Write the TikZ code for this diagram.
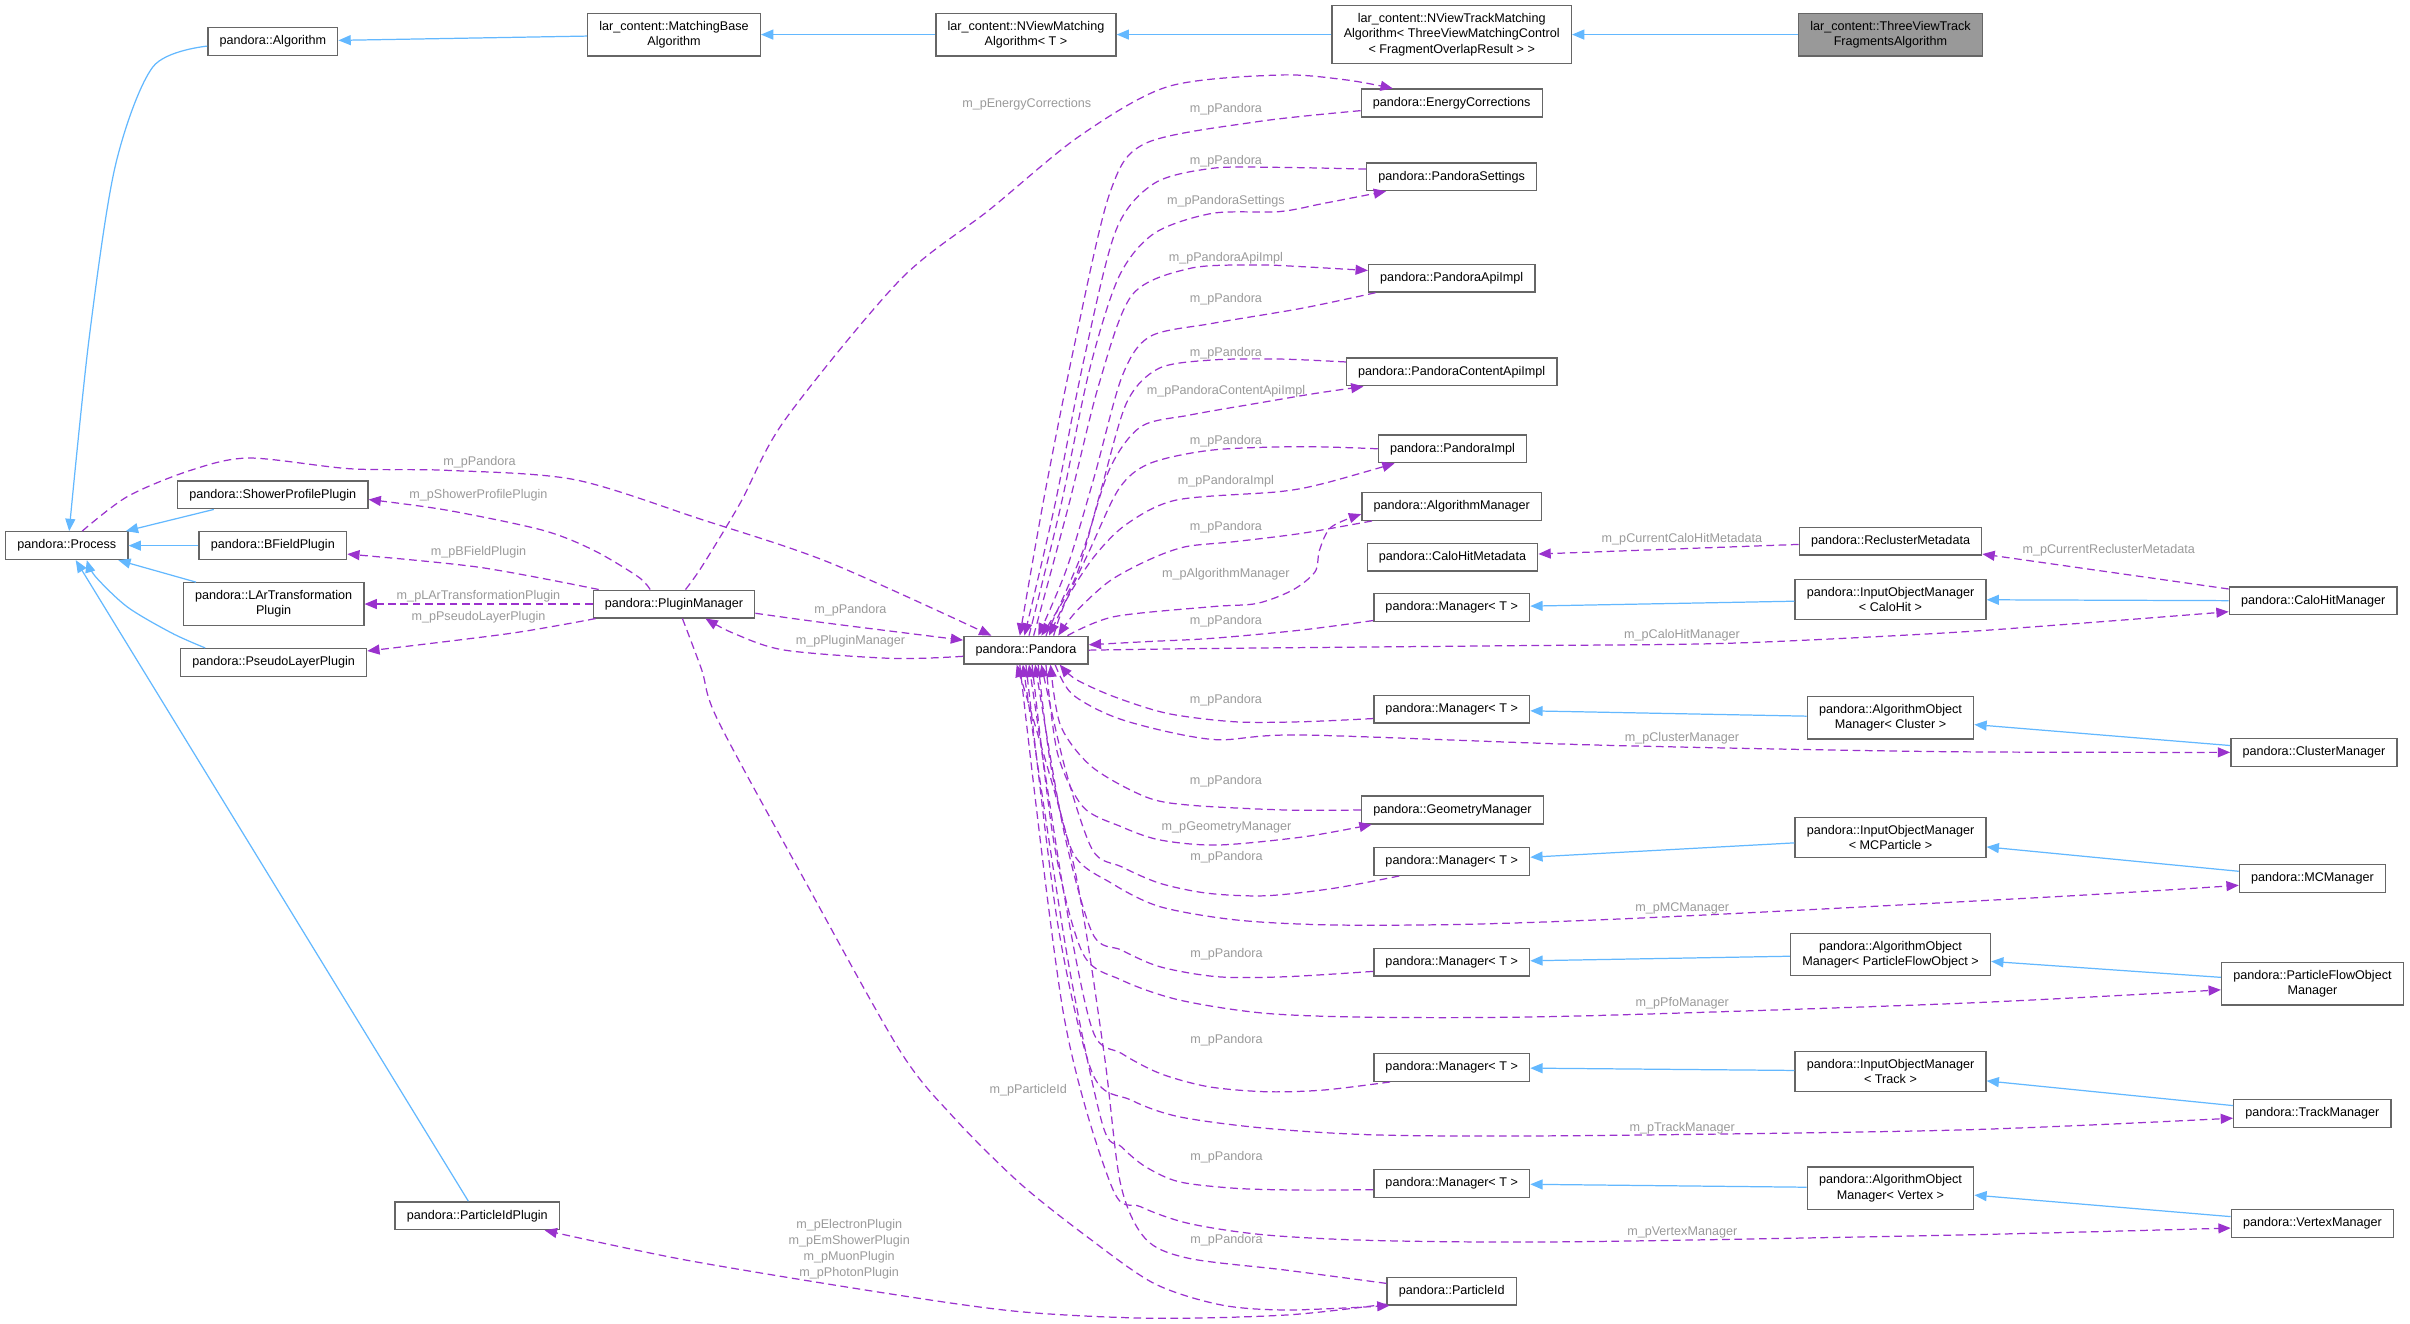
\documentclass[tikz,border=0pt]{standalone}
\usepackage{fontspec}
\setmainfont{Liberation Sans}
\usetikzlibrary{calc,arrows.meta}
\definecolor{inhblue}{HTML}{63B8FF}
\definecolor{usepurple}{HTML}{9A32CD}
\definecolor{lblgray}{HTML}{9A9A9A}
\definecolor{boxgray}{HTML}{666666}
\definecolor{mainfill}{HTML}{999999}
\tikzset{>={Triangle[length=8pt,width=6.5pt]},
  cls/.style={draw=boxgray, line width=0.9pt, fill=white, font=\fontsize{8.2}{10}\selectfont,
    align=center, inner xsep=7.6pt, inner ysep=5pt, minimum height=18pt},
  maincls/.style={cls, fill=mainfill},
  inh/.style={->, color=inhblue, line width=0.8pt},
  usedge/.style={->, color=usepurple, line width=0.8pt, dash pattern=on 5pt off 3pt},
  lbl/.style={text=lblgray, font=\fontsize{8.2}{10}\selectfont, align=center, inner sep=0pt}
}
\begin{document}
\begin{tikzpicture}[x=1pt, y=-1pt]
\useasboundingbox (0,0) rectangle (1568,861.4);
% classes
\node[maincls] (tvt) at (1230,22.5) {lar\_content::ThreeViewTrack\\FragmentsAlgorithm};
\node[cls] (nvt) at (944.5,22.5) {lar\_content::NViewTrackMatching\\Algorithm< ThreeViewMatchingControl\\< FragmentOverlapResult > >};
\node[cls] (nvm) at (667.5,22.5) {lar\_content::NViewMatching\\Algorithm< T >};
\node[cls] (mba) at (438.5,22.5) {lar\_content::MatchingBase\\Algorithm};
\node[cls] (alg) at (177.5,27) {pandora::Algorithm};
\node[cls] (proc) at (43.5,355) {pandora::Process};
\node[cls] (spp) at (177.5,322) {pandora::ShowerProfilePlugin};
\node[cls] (bfp) at (177.5,355) {pandora::BFieldPlugin};
\node[cls] (lat) at (178,393) {pandora::LArTransformation\\Plugin};
\node[cls] (plp) at (178,431) {pandora::PseudoLayerPlugin};
\node[cls] (pim) at (438.5,393) {pandora::PluginManager};
\node[cls] (pidp) at (310.5,791) {pandora::ParticleIdPlugin};
\node[cls] (pan) at (667.5,423) {pandora::Pandora};
\node[cls] (enc) at (944.5,67) {pandora::EnergyCorrections};
\node[cls] (pse) at (944.5,115) {pandora::PandoraSettings};
\node[cls] (pai) at (944.5,181) {pandora::PandoraApiImpl};
\node[cls] (pca) at (944.5,242) {pandora::PandoraContentApiImpl};
\node[cls] (pimpl) at (945,292) {pandora::PandoraImpl};
\node[cls] (agm) at (944.5,329.5) {pandora::AlgorithmManager};
\node[cls] (chmd) at (945,362.5) {pandora::CaloHitMetadata};
\node[cls] (mga) at (944.5,395.3) {pandora::Manager< T >};
\node[cls] (mgb) at (944.5,461.5) {pandora::Manager< T >};
\node[cls] (geo) at (945,527) {pandora::GeometryManager};
\node[cls] (mgc) at (944.5,560.5) {pandora::Manager< T >};
\node[cls] (mgd) at (944.5,626) {pandora::Manager< T >};
\node[cls] (mge) at (944.5,694.5) {pandora::Manager< T >};
\node[cls] (mgf) at (944.5,770) {pandora::Manager< T >};
\node[cls] (pid) at (944.5,840) {pandora::ParticleId};
\node[cls] (rcm) at (1230,352) {pandora::ReclusterMetadata};
\node[cls] (ioch) at (1230,390) {pandora::InputObjectManager\\< CaloHit >};
\node[cls] (aocl) at (1230,467) {pandora::AlgorithmObject\\Manager< Cluster >};
\node[cls] (iomc) at (1230,545) {pandora::InputObjectManager\\< MCParticle >};
\node[cls] (aopf) at (1230,621) {pandora::AlgorithmObject\\Manager< ParticleFlowObject >};
\node[cls] (iotr) at (1230,697) {pandora::InputObjectManager\\< Track >};
\node[cls] (aovx) at (1230,773) {pandora::AlgorithmObject\\Manager< Vertex >};
\node[cls] (chmg) at (1505,391) {pandora::CaloHitManager};
\node[cls] (clmg) at (1505.5,489.5) {pandora::ClusterManager};
\node[cls] (mcmg) at (1504.5,571.5) {pandora::MCManager};
\node[cls] (pfmg) at (1504.5,640) {pandora::ParticleFlowObject\\Manager};
\node[cls] (trmg) at (1504.5,724.5) {pandora::TrackManager};
\node[cls] (vxmg) at (1504.5,796) {pandora::VertexManager};
% inheritance
\path[inh]
(tvt) edge (nvt)
(nvt) edge (nvm)
(nvm) edge (mba)
(mba) edge (alg)
(spp) edge (proc)
(bfp) edge (proc)
(lat) edge (proc)
(pidp) edge (proc)
(ioch) edge (mga)
(chmg) edge (ioch)
(aocl) edge (mgb)
(clmg) edge (aocl)
(iomc) edge (mgc)
(mcmg) edge (iomc)
(aopf) edge (mgd)
(pfmg) edge (aopf)
(iotr) edge (mge)
(trmg) edge (iotr)
(aovx) edge (mgf)
(vxmg) edge (aovx);
\draw[inh] plot[smooth] coordinates {($(alg.west)+(0,3)$) (99.5,43.5) (75,108) (58,220) ($(proc.north)+(1.5,0)$)};
\draw[inh] plot[smooth] coordinates {($(plp.north)+(-44.5,0)$) (112,412) (83,395) (62,375) ($(proc.south)+(13,0)$)};
% members, left part
\draw[usedge] plot[smooth] coordinates {($(proc.north)+(10,0)$) (83,323) (124,306) (162,298) (228,305) (290.5,306) (373.5,312) (456.5,338) (539.6,366) ($(pan.north)+(-22.5,0)$)};
\draw[usedge] plot[smooth] coordinates {($(pim.north)+(-15.5,0)$) (415.1,375.2) (386,357.9) (352.8,344.9) (290.6,331.9) ($(spp.east)+(0,3)$)};
\draw[usedge] plot[smooth] coordinates {($(pim.north west)+(4,0)$) (311.3,369) ($(bfp.east)+(0,5.5)$)};
\draw[usedge] (pim) -- (lat);
\draw[usedge] plot[smooth] coordinates {($(pim.south west)+(2,0)$) (332,412.1) ($(plp.north east)+(0,2)$)};
\draw[usedge] plot[smooth] coordinates {($(pim.east)+(0,6)$) (539.6,405.6) ($(pan.west)+(0,-6.5)$)};
\draw[usedge] plot[smooth] coordinates {($(pan.west)+(0,4)$) (581.1,428.4) (510.6,423) (477.4,412.1) ($(pim.south)+(20.5,0)$)};
\draw[usedge] plot[smooth] coordinates {($(pim.north)+(7.5,0)$) (456.6,368.7) (481.5,327.5) (510.6,273.3) (585.5,182.2) (643.6,136.6) (701.7,89) (759.7,56.4) (832.3,48.8) (875.9,52) ($(enc.north west)+(21,0)$)};
\draw[usedge] plot[smooth] coordinates {($(pim.south)+(5.5,0)$) (456.6,436) (467,468.5) (522,570) (585.2,683.1) (620,726.5) (663.6,769.9) (707.2,804.6) (750.8,835) (794.4,849) (838,852.3) ($(pid.south west)+(2,0)$)};
\draw[usedge] plot[smooth] coordinates {($(pid.south west)+(0,-1)$) (838,855.5) (750.8,857.7) (663.6,853.4) (576.4,841.4) (445.6,819.7) ($(pidp.south east)+(-10,0)$)};
% members, upper fan
\draw[usedge] plot[smooth] coordinates {($(enc.west)+(0,5)$) (817.8,79.2) (745.2,93.3) (722,125.8) (700,220) (680,320) ($(pan.north)+(-4,0)$)};
\draw[usedge] plot[smooth] coordinates {($(pse.west)+(0,-5)$) (832.3,108.9) (788.8,109.5) (751,119.3) (726,150) (705,235) (686,330) ($(pan.north)+(-1,0)$)};
\draw[usedge] plot[smooth] coordinates {($(pan.north)+(2,0)$) (690,330) (709,240) (728,180) (751,151.8) (788.8,138.8) (832.3,137.7) (861.4,132.3) ($(pse.south west)+(13,0)$)};
\draw[usedge] plot[smooth] coordinates {($(pan.north)+(5,0)$) (695,330) (715,250) (736.5,192) (774.3,174.6) (817.8,172.4) (846.9,173.5) ($(pai.west)+(0,-5)$)};
\draw[usedge] plot[smooth] coordinates {($(pai.south west)+(5,0)$) (846.9,200.6) (788.8,210.4) (748.1,219) (730,245) (712,310) (694,370) ($(pan.north)+(8,0)$)};
\draw[usedge] plot[smooth] coordinates {($(pca.west)+(0,-6.5)$) (832.3,233.6) (788.8,234.2) (753.9,239.7) (733,262) (716,320) (700,375) ($(pan.north)+(10,0)$)};
\draw[usedge] plot[smooth] coordinates {($(pan.north)+(13,0)$) (704,360) (722,305) (742.3,277.6) (774.3,270) (817.8,262.4) (855.6,256) ($(pca.south west)+(11.5,0)$)};
\draw[usedge] plot[smooth] coordinates {(pimpl.west) (846.9,290.6) (788.8,292.8) (748.1,301.5) (728,318) (708,360) ($(pan.north)+(15,0)$)};
\draw[usedge] plot[smooth] coordinates {($(pan.north)+(18,0)$) (694,390) (712,362) (733,341) (765.5,325.3) (832.3,319.9) (861.4,314.5) ($(pimpl.south west)+(11,0)$)};
\draw[usedge] plot[smooth] coordinates {($(agm.south west)+(7,0)$) (846.9,347) (803.3,352.4) (771.4,355.7) (748,364) (722,378) (700,398) ($(pan.north)+(21,0)$)};
\draw[usedge] plot[smooth] coordinates {($(pan.north)+(27,0)$) (724.9,401.2) (788.8,394.7) (817.8,392.6) (841,383.9) (855.6,372) (858.5,357.9) (866,343) ($(agm.west)+(0,5)$)};
\draw[usedge] plot[smooth] coordinates {($(mga.south west)+(0,-1)$) (846.9,409.9) (788.8,415.3) (745.2,417.5) ($(pan.east)+(0,-3.5)$)};
\draw[usedge] plot[smooth] coordinates {(pan.east) (788.8,421.9) (984,420.1) (1122.2,418.6) (1260.3,412.1) (1352.5,405.6) ($(chmg.west)+(0,7)$)};
\draw[usedge] (rcm) -- (chmd);
\draw[usedge] (chmg) -- (rcm);
% members, lower fan
\draw[usedge] plot[smooth] coordinates {($(mgb.west)+(0,6)$) (846.9,469.6) (803.3,469.6) (759.7,464.2) (724.9,453.3) (700,442) ($(pan.south)+(22,0)$)};
\draw[usedge] plot[smooth] coordinates {($(pan.south)+(19,0)$) (698,452) (730.7,468.5) (788.8,481.1) (846.9,478.2) (1040.9,484.8) (1260.3,489) (clmg.west)};
\draw[usedge] plot[smooth] coordinates {(geo.west) (836.1,527) (773.5,523.8) (745.2,518.4) (710.4,498.9) (690,472) ($(pan.south)+(16,0)$)};
\draw[usedge] plot[smooth] coordinates {($(pan.south)+(13,0)$) (688,490) (704.5,524.8) (729.6,537.9) (754.7,546.5) (792.2,549.8) (848.6,544.4) ($(geo.south west)+(7,0)$)};
\draw[usedge] plot[smooth] coordinates {($(mgc.south west)+(17,0)$) (867.4,578) (823.6,582.8) (786,581.2) (754.7,574.7) (729.6,563.9) (710.8,553) (693,500) ($(pan.south)+(10,0)$)};
\draw[usedge] plot[smooth] coordinates {($(pan.south)+(8,0)$) (684,500) (698.3,555.2) (723.3,574.7) (754.7,589.9) (804.8,598.6) (867.4,601.8) (961.4,601.2) (1086.7,596.4) (1337.3,583.4) ($(mcmg.west)+(0,4.5)$)};
\draw[usedge] plot[smooth] coordinates {($(mgd.west)+(0,6)$) (836.1,635.5) (792.2,635.5) (754.7,629) (729.6,618.1) (710.8,607.3) (692,540) ($(pan.south)+(6,0)$)};
\draw[usedge] plot[smooth] coordinates {($(pan.south)+(4,0)$) (686,550) (704.5,620.3) (729.6,637.6) (767.2,650.6) (823.6,659.3) (898.8,661.9) (1024,661.1) (1274.7,652.8) ($(pfmg.west)+(0,4)$)};
\draw[usedge] plot[smooth] coordinates {($(mge.south west)+(11,0)$) (861.2,709.2) (823.6,710.3) (786,707) (754.7,698.4) (729.6,685.3) (710.8,670.2) (692,580) ($(pan.south)+(2,0)$)};
\draw[usedge] plot[smooth] coordinates {(pan.south) (688,600) (710.8,698.4) (735.9,715.7) (767.2,726.6) (823.6,734.1) (898.8,738.5) (1024,738.9) (1274.7,735.2) ($(trmg.west)+(0,3)$)};
\draw[usedge] plot[smooth] coordinates {($(mgf.west)+(0,4)$) (848.6,774.3) (804.8,773.2) (767.2,768.9) (745.3,759.1) (729.6,746.1) (717.1,730.9) (694,620) ($(pan.south)+(-2,0)$)};
\draw[usedge] plot[smooth] coordinates {($(pan.south)+(-4,0)$) (692,660) (723.3,772.1) (742.1,785.1) (773.5,796) (823.6,803.5) (898.8,807.2) (1024,807.9) (1274.7,803.5) ($(vxmg.west)+(0,3)$)};
\draw[usedge] plot[smooth] coordinates {($(pid.west)+(0,-5)$) (836.1,826.3) (773.5,818.7) (745.3,806) (729,770) (718,683) (698,560) ($(pan.south)+(-6,0)$)};
% member labels
\node[lbl] (l-enc) at (668,67.8) {m\_pEnergyCorrections};
\node[lbl] (l-encp) at (797.6,71) {m\_pPandora};
\node[lbl] (l-psep) at (797.6,104.6) {m\_pPandora};
\node[lbl] (l-pse) at (797.6,130.8) {m\_pPandoraSettings};
\node[lbl] (l-pai) at (797.6,167.7) {m\_pPandoraApiImpl};
\node[lbl] (l-paip) at (797.6,194.4) {m\_pPandora};
\node[lbl] (l-pcap) at (797.6,229.7) {m\_pPandora};
\node[lbl] (l-pca) at (797.6,254.4) {m\_pPandoraContentApiImpl};
\node[lbl] (l-pimplp) at (797.6,286.9) {m\_pPandora};
\node[lbl] (l-pimpl) at (797.6,313) {m\_pPandoraImpl};
\node[lbl] (l-agmp) at (797.6,342.8) {m\_pPandora};
\node[lbl] (l-agm) at (797.6,373.5) {m\_pAlgorithmManager};
\node[lbl] (l-mgap) at (797.6,404) {m\_pPandora};
\node[lbl] (l-chmd) at (1094.3,350.7) {m\_pCurrentCaloHitMetadata};
\node[lbl] (l-rcm) at (1372,358.3) {m\_pCurrentReclusterMetadata};
\node[lbl] (l-chmg) at (1094.3,413) {m\_pCaloHitManager};
\node[lbl] (l-mgbp) at (797.6,455.9) {m\_pPandora};
\node[lbl] (l-clmg) at (1094.3,480) {m\_pClusterManager};
\node[lbl] (l-geop) at (797.6,508) {m\_pPandora};
\node[lbl] (l-geo) at (798,538) {m\_pGeometryManager};
\node[lbl] (l-mgcp) at (798,558) {m\_pPandora};
\node[lbl] (l-mcmg) at (1094.5,591) {m\_pMCManager};
\node[lbl] (l-mgdp) at (798,620.7) {m\_pPandora};
\node[lbl] (l-pfmg) at (1094.5,653) {m\_pPfoManager};
\node[lbl] (l-mgep) at (798,676.6) {m\_pPandora};
\node[lbl] (l-pid) at (669,709.6) {m\_pParticleId};
\node[lbl] (l-trmg) at (1094.5,734) {m\_pTrackManager};
\node[lbl] (l-mgfp) at (798,752.8) {m\_pPandora};
\node[lbl] (l-vxmg) at (1094.5,802) {m\_pVertexManager};
\node[lbl] (l-pidpan) at (798,806.7) {m\_pPandora};
\node[lbl, font=\fontsize{8.2}{10.4}\selectfont] (l-pidp) at (552.5,813) {m\_pElectronPlugin\\m\_pEmShowerPlugin\\m\_pMuonPlugin\\m\_pPhotonPlugin};
\node[lbl] (l-procp) at (312,301) {m\_pPandora};
\node[lbl] (l-spp) at (311.3,322) {m\_pShowerProfilePlugin};
\node[lbl] (l-bfp) at (311.3,359.6) {m\_pBFieldPlugin};
\node[lbl] (l-lat) at (311.3,388.2) {m\_pLArTransformationPlugin};
\node[lbl] (l-plp) at (311.3,401.9) {m\_pPseudoLayerPlugin};
\node[lbl] (l-pimp) at (553.3,396.9) {m\_pPandora};
\node[lbl] (l-pim) at (553.3,417.5) {m\_pPluginManager};
\end{tikzpicture}
\end{document}
